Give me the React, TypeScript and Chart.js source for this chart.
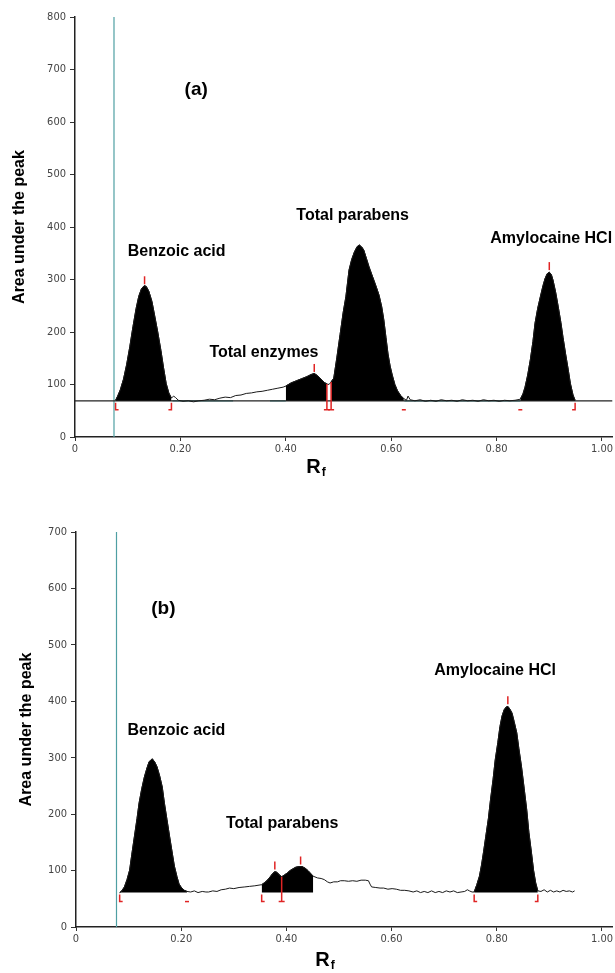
import React, { useEffect, useRef } from "react";
import { Chart, registerables } from "chart.js";

Chart.register(...registerables);

// ---------- shared ----------
const X_TICKS = [0, 0.2, 0.4, 0.6, 0.8, 1.0];
const RED = "#e02424";
const TEAL = "#4f9fa3";
const TICK_FONT = "'Liberation Sans Narrow', 'DejaVu Sans Condensed', sans-serif";
const LABEL_FONT = "'Liberation Sans', Arial, sans-serif";

// ---------- panel (a) ----------
const rfA = [
  0.077, 0.081, 0.086, 0.092, 0.098, 0.104, 0.110, 0.116, 0.121, 0.126, 0.131, 0.135, 0.140, 0.146, 0.151, 0.157,
  0.163, 0.168, 0.173, 0.178, 0.183, 0.187, 0.191, 0.196, 0.205, 0.215, 0.225, 0.235, 0.245, 0.255, 0.265, 0.275,
  0.285, 0.295, 0.305, 0.315, 0.325, 0.335, 0.345, 0.355, 0.365, 0.375, 0.385, 0.395, 0.400, 0.410, 0.420, 0.430,
  0.440, 0.448, 0.454, 0.460, 0.467, 0.473, 0.478, 0.482, 0.486, 0.491, 0.497, 0.503, 0.509, 0.514, 0.520, 0.525,
  0.530, 0.535, 0.539, 0.544, 0.548, 0.553, 0.558, 0.563, 0.567, 0.572, 0.577, 0.582, 0.586, 0.590, 0.594, 0.598,
  0.602, 0.607, 0.612, 0.618, 0.624, 0.629, 0.632, 0.636, 0.645, 0.655, 0.665, 0.675, 0.685, 0.695, 0.705, 0.715,
  0.725, 0.735, 0.745, 0.755, 0.765, 0.775, 0.785, 0.795, 0.805, 0.815, 0.825, 0.835, 0.845, 0.850, 0.854, 0.859,
  0.864, 0.869, 0.873, 0.878, 0.883, 0.888, 0.892, 0.896, 0.900, 0.904, 0.907, 0.912, 0.917, 0.922, 0.926, 0.931,
  0.936, 0.940, 0.945, 0.949,
];
const areaA = [
  70, 78, 90, 110, 138, 172, 210, 245, 268, 282, 288, 287, 278, 258, 232, 200,
  165, 132, 102, 84, 74, 78, 75, 70, 68, 69, 67, 69, 70, 72, 71, 74,
  76, 75, 79, 80, 83, 84, 86, 87, 89, 91, 93, 95, 97, 103, 107, 111,
  115, 119, 121, 117, 110, 104, 101, 100, 105, 112, 152, 195, 238, 267, 318, 338,
  352, 362, 366, 362, 356, 340, 324, 310, 299, 285, 270, 248, 223, 190, 158, 135,
  118, 100, 88, 79, 73, 70, 78, 71, 69, 71, 68, 70, 68, 71, 69, 70,
  68, 71, 69, 70, 68, 71, 69, 70, 68, 70, 69, 70, 72, 82, 95, 118,
  147, 182, 217, 245, 267, 288, 302, 311, 314, 309, 299, 276, 248, 218, 190, 158,
  128, 102, 80, 70,
];
const baselineA = 69;
const peakRangesA = [[0.077, 0.183], [0.400, 0.478], [0.486, 0.624], [0.845, 0.949]];
const tealSegmentsA = [[0.185, 0.30], [0.37, 0.40], [0.625, 0.845]];
const solventFrontA = 0.074;
const yMaxA = 800;
const apexTicksA = [[0.132, 289], [0.454, 122], [0.900, 316]];
const bracketsA: [number, string][] = [
  [0.077, "["], [0.183, "]"], [0.478, "|"], [0.486, "|"], [0.624, "-"], [0.845, "-"], [0.949, "]"],
];

// ---------- panel (b) ----------
const rfB = [
  0.083, 0.087, 0.092, 0.097, 0.102, 0.106, 0.111, 0.116, 0.120, 0.125, 0.130, 0.135, 0.139, 0.145, 0.150, 0.154,
  0.159, 0.164, 0.168, 0.173, 0.178, 0.183, 0.187, 0.192, 0.196, 0.201, 0.206, 0.211, 0.218, 0.225, 0.232, 0.240,
  0.247, 0.252, 0.260, 0.268, 0.276, 0.284, 0.292, 0.300, 0.310, 0.321, 0.330, 0.340, 0.353, 0.359, 0.365, 0.370,
  0.374, 0.378, 0.382, 0.387, 0.391, 0.396, 0.402, 0.407, 0.412, 0.418, 0.424, 0.430, 0.436, 0.441, 0.445, 0.451,
  0.459, 0.466, 0.472, 0.478, 0.483, 0.490, 0.497, 0.503, 0.510, 0.518, 0.526, 0.534, 0.542, 0.550, 0.556, 0.559,
  0.562, 0.570, 0.578, 0.585, 0.593, 0.601, 0.609, 0.617, 0.625, 0.633, 0.641, 0.648, 0.655, 0.662, 0.669, 0.676,
  0.683, 0.690, 0.697, 0.704, 0.711, 0.718, 0.725, 0.732, 0.739, 0.744, 0.748, 0.753, 0.757, 0.762, 0.767, 0.771,
  0.775, 0.779, 0.784, 0.788, 0.793, 0.797, 0.802, 0.806, 0.810, 0.814, 0.818, 0.821, 0.825, 0.829, 0.833, 0.838,
  0.842, 0.847, 0.852, 0.857, 0.861, 0.866, 0.870, 0.874, 0.878, 0.884, 0.890, 0.896, 0.902, 0.908, 0.914, 0.920,
  0.926, 0.932, 0.938, 0.944, 0.948,
];
const areaB = [
  61, 64, 71, 84, 101, 128, 160, 192, 220, 245, 266, 282, 293, 298, 292, 284,
  268, 248, 220, 190, 160, 131, 108, 89, 76, 69, 65, 63, 62, 64, 61, 63,
  62, 62, 64, 63, 66, 67, 69, 68, 70, 71, 72, 73, 75, 79, 84, 90,
  95, 98, 97, 92, 89, 92, 96, 100, 103, 106, 107, 107, 104, 100, 96, 90,
  87, 86, 84, 80, 78, 80, 80, 82, 82, 81, 82, 81, 83, 83, 82, 76,
  71, 70, 69, 69, 67, 68, 67, 65, 65, 64, 62, 64, 61, 63, 61, 64,
  61, 63, 61, 64, 62, 64, 61, 62, 63, 66, 64, 62, 62, 75, 90, 110,
  134, 160, 192, 225, 262, 296, 327, 355, 374, 385, 390, 391, 386, 379, 364, 344,
  316, 284, 246, 207, 168, 131, 100, 78, 64, 63, 66, 62, 65, 62, 64, 62,
  65, 63, 64, 62, 64,
];
const baselineB = 61;
const peakRangesB = [[0.083, 0.211], [0.353, 0.451], [0.757, 0.878]];
const solventFrontB = 0.077;
const yMaxB = 700;
const apexTicksB = [[0.378, 100], [0.427, 109], [0.821, 393]];
const bracketsB: [number, string][] = [
  [0.083, "["], [0.211, "-"], [0.353, "["], [0.391, "|"], [0.757, "["], [0.878, "]"],
];

// ---------- annotation placement (text only) ----------
const annotationsA = [
  { text: "(a)", rf: 0.208, v: 661, size: 19 },
  { text: "Benzoic acid", rf: 0.100, v: 354, size: 16 },
  { text: "Total enzymes", rf: 0.255, v: 160, size: 16 },
  { text: "Total parabens", rf: 0.420, v: 421, size: 16 },
  { text: "Amylocaine HCl", rf: 0.788, v: 377, size: 16 },
];
const annotationsB = [
  { text: "(b)", rf: 0.143, v: 564, size: 19 },
  { text: "Benzoic acid", rf: 0.098, v: 348, size: 16 },
  { text: "Total parabens", rf: 0.285, v: 183, size: 16 },
  { text: "Amylocaine HCl", rf: 0.681, v: 454, size: 16 },
];

type Panel = {
  rf: number[];
  area: number[];
  baseline: number;
  peaks: number[][];
  teal: number[][];
  front: number;
  yMax: number;
  apex: number[][];
  brackets: [number, string][];
  labels: { text: string; rf: number; v: number; size: number }[];
  showBaseline: boolean;
  padTop: number;
  yAxisWidth: number;
  xAxisHeight: number;
  yTitleX: number;
  rfTitleAt: number;
  rfTitleOffset: number;
};

const panelA: Panel = {
  rf: rfA, area: areaA, baseline: baselineA, peaks: peakRangesA, teal: tealSegmentsA,
  front: solventFrontA, yMax: yMaxA, apex: apexTicksA, brackets: bracketsA, labels: annotationsA,
  showBaseline: true, padTop: 17, yAxisWidth: 75, xAxisHeight: 53, yTitleX: 20, rfTitleAt: 0.439, rfTitleOffset: 30,
};
const panelB: Panel = {
  rf: rfB, area: areaB, baseline: baselineB, peaks: peakRangesB, teal: [],
  front: solventFrontB, yMax: yMaxB, apex: apexTicksB, brackets: bracketsB, labels: annotationsB,
  showBaseline: false, padTop: 42, yAxisWidth: 76, xAxisHeight: 46, yTitleX: 27, rfTitleAt: 0.455, rfTitleOffset: 33,
};

function interp(xs: number[], ys: number[], x: number): number {
  for (let i = 0; i < xs.length - 1; i++) {
    if (x >= xs[i] && x <= xs[i + 1]) {
      const t = (x - xs[i]) / (xs[i + 1] - xs[i] || 1);
      return ys[i] + t * (ys[i + 1] - ys[i]);
    }
  }
  return ys[ys.length - 1];
}

function makeOverlay(p: Panel) {
  return {
    id: "overlay",
    afterDatasetsDraw(chart: any) {
      const { ctx, scales, chartArea } = chart;
      const x = scales.x, y = scales.y;
      ctx.save();
      ctx.strokeStyle = RED;
      ctx.lineWidth = 1.5;
      for (const [rf, v] of p.apex) {
        const px = x.getPixelForValue(rf), py = y.getPixelForValue(v);
        ctx.beginPath();
        ctx.moveTo(px, py - 1);
        ctx.lineTo(px, py - 9);
        ctx.stroke();
      }
      const by = y.getPixelForValue(p.baseline);
      for (const [rf, kind] of p.brackets) {
        const px = x.getPixelForValue(rf);
        ctx.beginPath();
        if (kind === "[") {
          ctx.moveTo(px, by + 2); ctx.lineTo(px, by + 9); ctx.lineTo(px + 3, by + 9);
        } else if (kind === "]") {
          ctx.moveTo(px, by + 2); ctx.lineTo(px, by + 9); ctx.lineTo(px - 3, by + 9);
        } else if (kind === "-") {
          ctx.moveTo(px - 2, by + 9); ctx.lineTo(px + 2, by + 9);
        } else {
          const ty = y.getPixelForValue(interp(p.rf, p.area, rf));
          ctx.moveTo(px, ty); ctx.lineTo(px, by + 9);
          ctx.moveTo(px - 3, by + 9); ctx.lineTo(px + 3, by + 9);
        }
        ctx.stroke();
      }
      ctx.fillStyle = "#000";
      ctx.textBaseline = "middle";
      ctx.textAlign = "left";
      for (const l of p.labels) {
        ctx.font = `bold ${l.size}px ${LABEL_FONT}`;
        ctx.fillText(l.text, x.getPixelForValue(l.rf), y.getPixelForValue(l.v));
      }
      // x title: R with subscript f
      const rx = x.getPixelForValue(p.rfTitleAt);
      const ry = chartArea.bottom + p.rfTitleOffset;
      ctx.font = `bold 20px ${LABEL_FONT}`;
      ctx.fillText("R", rx, ry);
      const w = ctx.measureText("R").width;
      ctx.font = `bold 12px ${LABEL_FONT}`;
      ctx.fillText("f", rx + w + 1, ry + 6);
      // y title
      ctx.save();
      ctx.translate(p.yTitleX, (chartArea.top + chartArea.bottom) / 2);
      ctx.rotate(-Math.PI / 2);
      ctx.textAlign = "center";
      ctx.font = `bold 16px ${LABEL_FONT}`;
      ctx.fillText("Area under the peak", 0, 0);
      ctx.restore();
      ctx.restore();
    },
  };
}

function buildConfig(p: Panel): any {
  const trace = p.rf.map((r, i) => ({ x: r, y: p.area[i] }));
  const datasets: any[] = [];
  datasets.push({
    data: trace, borderColor: "#1a1a1a", borderWidth: 1, pointRadius: 0, fill: false, tension: 0,
  });
  for (const [a, b] of p.peaks) {
    datasets.push({
      data: trace.filter((pt) => pt.x >= a && pt.x <= b),
      borderColor: "#000", borderWidth: 1, backgroundColor: "#000", pointRadius: 0,
      fill: { value: p.baseline }, tension: 0,
    });
  }
  if (p.showBaseline) {
    datasets.push({
      data: [{ x: 0, y: p.baseline }, { x: 1.02, y: p.baseline }],
      borderColor: "#222", borderWidth: 1.3, pointRadius: 0, fill: false,
    });
  }
  for (const [a, b] of p.teal) {
    datasets.push({
      data: [{ x: a, y: p.baseline }, { x: b, y: p.baseline }],
      borderColor: TEAL, borderWidth: 1.3, pointRadius: 0, fill: false,
    });
  }
  datasets.push({
    data: [{ x: p.front, y: 0 }, { x: p.front, y: p.yMax }],
    borderColor: TEAL, borderWidth: 1.2, pointRadius: 0, fill: false,
  });

  const tickFont = { family: TICK_FONT, size: 11 };
  return {
    type: "line",
    data: { datasets },
    options: {
      animation: false,
      responsive: true,
      maintainAspectRatio: false,
      events: [],
      layout: { padding: { top: p.padTop, left: 0, right: 0, bottom: 0 } },
      plugins: { legend: { display: false }, tooltip: { enabled: false } },
      scales: {
        x: {
          type: "linear",
          min: 0,
          max: 1.02,
          afterBuildTicks: (s: any) => { s.ticks = X_TICKS.map((v) => ({ value: v })); },
          afterFit: (s: any) => { s.height = p.xAxisHeight; },
          ticks: {
            callback: (v: any) => (Number(v) === 0 ? "0" : Number(v).toFixed(2)),
            font: tickFont, color: "#444", padding: 2, maxRotation: 0, autoSkip: false,
          },
          grid: { display: true, drawOnChartArea: false, drawTicks: true, tickLength: 4, color: "#333" },
          border: { display: true, color: "#222", width: 1.5 },
        },
        y: {
          type: "linear",
          min: 0,
          max: p.yMax,
          afterFit: (s: any) => { s.width = p.yAxisWidth; },
          ticks: { stepSize: 100, font: tickFont, color: "#444", padding: 4 },
          grid: { display: true, drawOnChartArea: false, drawTicks: true, tickLength: 5, color: "#333" },
          border: { display: true, color: "#222", width: 1.5 },
        },
      },
    },
    plugins: [makeOverlay(p)],
  };
}

export default function App() {
  const refA = useRef<HTMLCanvasElement>(null);
  const refB = useRef<HTMLCanvasElement>(null);
  useEffect(() => {
    const a = new Chart(refA.current as HTMLCanvasElement, buildConfig(panelA));
    const b = new Chart(refB.current as HTMLCanvasElement, buildConfig(panelB));
    return () => {
      a.destroy();
      b.destroy();
    };
  }, []);
  return (
    <div style={{ position: "absolute", left: 0, top: 0, width: 615, height: 973, background: "#fff" }}>
      <div style={{ position: "absolute", left: 0, top: 0, width: 615, height: 490 }}>
        <canvas ref={refA} />
      </div>
      <div style={{ position: "absolute", left: 0, top: 490, width: 615, height: 483 }}>
        <canvas ref={refB} />
      </div>
    </div>
  );
}
